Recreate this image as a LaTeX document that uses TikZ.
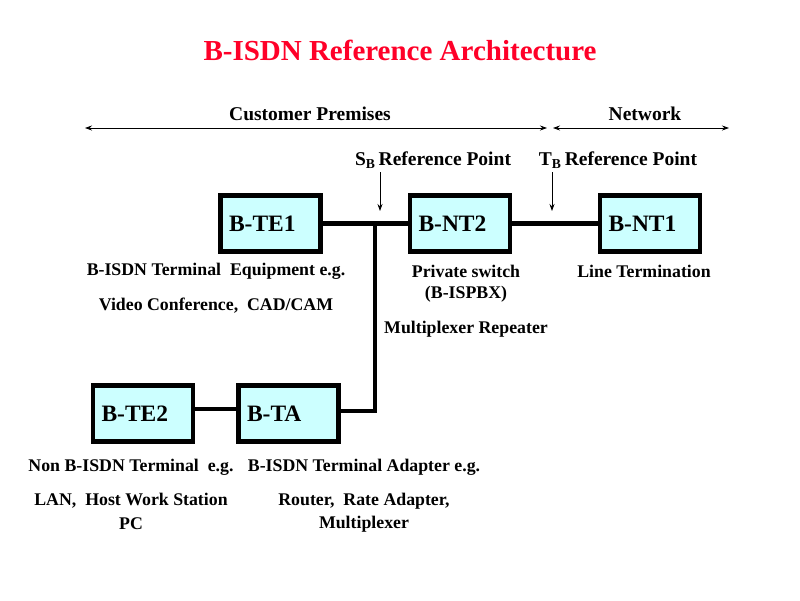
\documentclass[tikz,border=0pt]{standalone}
\usepackage{fontspec}
\setmainfont{Liberation Serif}
\usetikzlibrary{arrows.meta}
\definecolor{boxfill}{RGB}{204,255,255}
\definecolor{titlered}{RGB}{255,0,40}
\begin{document}
\begin{tikzpicture}[x=1pt,y=-1pt,
  unit/.style={draw=black,line width=4.5pt,fill=boxfill,minimum width=100pt,minimum height=56pt,inner sep=0pt,text width=83pt,align=left,font=\fontsize{23.5}{25}\selectfont\bfseries},
  lbl/.style={font=\fontsize{17.8}{19}\selectfont\bfseries,inner sep=0pt},
  toplbl/.style={font=\fontsize{19.5}{21}\selectfont\bfseries,inner sep=0pt},
  wire/.style={line width=4.5pt},
  dim/.style={line width=0.8pt,{Stealth[length=7pt,width=5pt]}-{Stealth[length=7pt,width=5pt]}},
  refar/.style={line width=0.8pt,-{Stealth[length=7pt,width=5pt]}}]
\useasboundingbox (0,0) rectangle (800,600);
\fill[white] (0,0) rectangle (800,600);
\node[font=\fontsize{29}{32}\selectfont\bfseries,text=titlered] (title) at (400,50) {B-ISDN Reference Architecture};
% region arrows
\coordinate (cpL) at (85,128); \coordinate (cpR) at (547,128);
\coordinate (nwL) at (553,128); \coordinate (nwR) at (729,128);
\draw[dim] (cpL) -- (cpR);
\draw[dim] (nwL) -- (nwR);
\node[toplbl] (cp) at (310,114) {Customer Premises};
\node[toplbl] (nw) at (645,114) {Network};
% reference points
\node[toplbl] (sb) at (433,160) {S\textsubscript{B}\,Reference Point};
\node[toplbl] (tb) at (618,160) {T\textsubscript{B}\,Reference Point};
\coordinate (sbt) at (380,172); \coordinate (sbh) at (380,211);
\coordinate (tbt) at (552,172); \coordinate (tbh) at (552,211);
\draw[refar] (sbt) -- (sbh);
\draw[refar] (tbt) -- (tbh);
% units
\node[unit] (te1) at (270.5,223.5) {B-TE1};
\node[unit] (nt2) at (460,223.5) {B-NT2};
\node[unit] (nt1) at (650,223.5) {B-NT1};
\node[unit] (te2) at (143,413.5) {B-TE2};
\node[unit] (ta) at (288.5,413.5) {B-TA};
% wires
\coordinate (j) at (375,223.5);
\coordinate (k) at (375,411);
\draw[wire] (te1.east) -- (nt2.west);
\draw[wire] (nt2.east) -- (nt1.west);
\draw[wire] (j) -- (k) -- (ta.east |- k);
\draw[wire] (te2.east |- 0,409) -- (ta.west |- 0,409);
% labels
\node[lbl] (l1) at (216,271) {B-ISDN Terminal\ \ Equipment e.g.};
\node[lbl] (l2) at (216,306) {Video Conference,\ \ CAD/CAM};
\node[lbl] (l3) at (466,271) {Private switch};
\node[lbl] (l4) at (466,294) {(B-ISPBX)};
\node[lbl] (l5) at (466,329) {Multiplexer Repeater};
\node[lbl] (l6) at (644,271) {Line Termination};
\node[lbl] (l7) at (131,467) {Non B-ISDN Terminal\ \ e.g.};
\node[lbl] (l8) at (131,501) {LAN,\ \ Host Work Station};
\node[lbl] (l9) at (131,524) {PC};
\node[lbl] (l10) at (364,467) {B-ISDN Terminal Adapter e.g.};
\node[lbl] (l11) at (364,501) {Router,\ \ Rate Adapter,};
\node[lbl] (l12) at (364,524) {Multiplexer};
\end{tikzpicture}
\end{document}
